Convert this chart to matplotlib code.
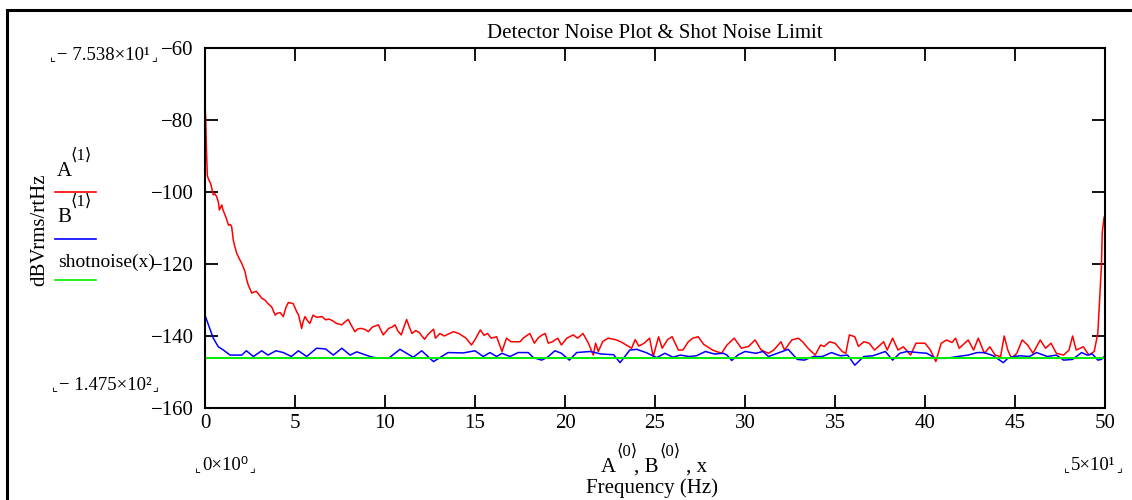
import matplotlib
matplotlib.use("Agg")
import matplotlib.pyplot as plt
from matplotlib.lines import Line2D

# detector noise, channel A (freq Hz, dBVrms/rtHz)
a_freq = [0.0, 0.04, 0.08, 0.13, 0.2, 0.31, 0.4, 0.46, 0.55, 0.65, 0.75, 0.8, 0.93, 1.0,
          1.11, 1.2, 1.3, 1.4, 1.48, 1.57, 1.65, 1.76, 1.9, 2.04, 2.22, 2.3, 2.4, 2.6,
          2.7, 2.85, 3.0, 3.15, 3.33, 3.5, 3.7, 3.9, 4.0, 4.17, 4.35, 4.5, 4.63, 4.9,
          5.09, 5.2, 5.37, 5.45, 5.56, 5.7, 5.83, 6.0, 6.2, 6.5, 6.7, 6.9, 7.1, 7.3,
          7.6, 7.8, 7.96, 8.1, 8.33, 8.5, 8.7, 8.9, 9.07, 9.3, 9.63, 9.9, 10.2, 10.4,
          10.56, 10.7, 10.9, 11.2, 11.35, 11.5, 11.7, 11.9, 12.05, 12.2, 12.4, 12.7,
          12.8, 13.05, 13.3, 13.5, 13.8, 14.1, 14.5, 14.8, 15.0, 15.3, 15.5, 15.7, 15.9,
          16.2, 16.5, 16.75, 17.0, 17.5, 17.7, 18.05, 18.3, 18.5, 18.7, 18.9, 19.07,
          19.3, 19.6, 19.8, 20.1, 20.46, 20.7, 21.0, 21.3, 21.57, 21.7, 21.85, 22.1,
          22.4, 22.8, 23.1, 23.4, 23.7, 23.9, 24.1, 24.4, 24.7, 24.9, 25.2, 25.4, 25.7,
          25.95, 26.3, 26.55, 26.85, 27.1, 27.4, 27.7, 28.2, 28.7, 29.0, 29.4, 29.8,
          30.2, 30.56, 30.9, 31.3, 31.6, 32.0, 32.2, 32.6, 32.96, 33.2, 33.5, 33.9,
          34.2, 34.4, 34.7, 35.0, 35.4, 35.6, 35.8, 36.1, 36.3, 36.6, 36.9, 37.2, 37.5,
          37.7, 37.9, 38.2, 38.5, 38.8, 39.2, 39.5, 40.0, 40.3, 40.6, 40.9, 41.2, 41.5,
          41.7, 41.9, 42.4, 42.7, 42.96, 43.3, 43.6, 43.9, 44.2, 44.4, 44.6, 44.8, 45.1,
          45.4, 45.7, 46.0, 46.4, 46.7, 47.0, 47.3, 47.7, 48.0, 48.2, 48.4, 48.8, 49.1,
          49.4, 49.6, 49.7, 49.8, 49.85, 49.95]
a_db = [-75.4, -80, -88, -95.5, -96.5, -97.6, -99.5, -100.8, -100.5, -101.3, -103, -105,
        -103.6, -105, -106.4, -107.5, -109.2, -109, -109.6, -113.3, -115, -117, -118.5,
        -119.8, -122.1, -124, -125.8, -128.1, -127.8, -127.6, -128.5, -129.5, -130, -131,
        -131.9, -134.2, -133.7, -133.5, -134.6, -132, -130.7, -131, -133.2, -134.2,
        -137.9, -136, -134.6, -135.8, -136.5, -134.2, -134.8, -134.6, -135.5, -135.3,
        -135.8, -136.5, -136.9, -136, -135.4, -136.8, -138.8, -138, -137.9, -138.2,
        -138.8, -137.5, -136.9, -139.7, -137.9, -137.5, -136.9, -138.5, -139.7, -135.4,
        -137.5, -139.3, -138.5, -139, -140, -140.9, -139.5, -138.1, -140.6, -139.3,
        -140, -139.5, -138.8, -139.3, -140.6, -142.5, -141, -138.3, -139.8, -139.3,
        -140.6, -140.2, -144.3, -140.6, -141.6, -141.6, -140.5, -139.3, -142, -140.6,
        -139.8, -139.3, -142, -141.6, -140.6, -142.5, -140.6, -139.7, -140.6, -139.3,
        -142, -145.3, -142, -144.3, -141.5, -140.6, -141, -141.6, -142.5, -143.4, -141,
        -142.8, -142, -140.6, -145.7, -140.2, -143.4, -141, -140.2, -143.9, -143.9,
        -141.6, -140.6, -140.2, -142.3, -143.9, -144.8, -142.5, -140.6, -143.4, -142.9,
        -141.1, -143.9, -144.8, -143.9, -141.6, -143.9, -141.1, -140.6, -141.6, -143.4,
        -145.3, -142.5, -142.9, -141.6, -142, -144.3, -144.8, -139.7, -140.2, -142.9,
        -141.6, -142, -143.9, -142.5, -141.6, -143.9, -140.6, -143.9, -143, -145.3,
        -142, -142, -143.9, -147.1, -142, -141.1, -141.8, -140.6, -143.4, -141.1,
        -143.9, -140.6, -144.8, -143, -145.3, -145.7, -140, -143.9, -146.2, -144.8,
        -141.1, -142.5, -144.8, -141.1, -143.4, -142, -144.8, -145.3, -143.9, -140,
        -143.9, -143, -145.3, -144.3, -139.3, -130, -120.7, -111, -107]

# channel B
b_freq = [0.0, 0.19, 0.46, 0.74, 1.02, 1.39, 2.04, 2.3, 2.69, 3.15, 3.5, 3.94, 4.35, 4.8,
          5.19, 5.65, 6.2, 6.7, 7.13, 7.6, 8.06, 8.43, 9.17, 9.54, 10.2, 10.83, 11.57,
          12.04, 12.6, 12.7, 13.5, 14.35, 15.0, 15.46, 15.83, 16.2, 16.5, 16.94, 17.4,
          17.96, 18.24, 18.7, 19.0, 19.44, 19.8, 20.24, 20.65, 21.4, 22.0, 22.7, 23.06,
          23.6, 23.98, 24.5, 25.1, 25.55, 26.0, 26.4, 26.9, 27.3, 27.8, 28.3, 28.8, 29.0,
          29.26, 29.6, 30.0, 30.6, 31.0, 31.3, 31.8, 32.4, 32.9, 33.3, 33.8, 34.3, 34.8,
          35.3, 35.7, 36.1, 36.6, 37.1, 37.8, 38.2, 38.6, 39.0, 39.6, 40.1, 40.6, 41.2,
          41.8, 42.4, 42.9, 43.3, 43.8, 44.0, 44.35, 44.6, 44.9, 45.3, 45.8, 46.2, 46.8,
          47.3, 47.7, 48.2, 48.7, 49.0, 49.3, 49.6, 49.8, 50.0]
b_db = [-134.2, -136.9, -140.6, -143, -143.9, -145.3, -145.3, -144.1, -145.7, -144.1,
        -145.3, -144.1, -144.6, -145.7, -144.1, -145.7, -143.4, -143.6, -145.3, -143.4,
        -145.3, -144.4, -145.7, -146.1, -146.2, -143.7, -145.9, -144.1, -146.7, -147.1,
        -144.6, -144.7, -144.1, -145.7, -144.6, -145.7, -144.8, -145.7, -144.6, -144.6,
        -146, -146.7, -146, -144.1, -144.8, -146.7, -144.6, -144.3, -145, -145.2,
        -147.4, -143.9, -143.7, -144.6, -146, -144.8, -145.9, -145.3, -145.7, -145.5,
        -144.3, -145, -144.8, -145.3, -146.8, -145.3, -144.3, -144.8, -144.3, -145.7,
        -144.8, -143.7, -146.5, -146.7, -145.7, -145.7, -144.6, -145.5, -145.3, -148.1,
        -145.7, -145.5, -144.3, -146.7, -144.8, -144.3, -144.6, -144.8, -146.2, -146.2,
        -145.7, -145.3, -144.6, -144.6, -145.5, -146.2, -147.4, -146.2, -145.7, -145.5,
        -145.7, -144.6, -145.7, -145.3, -146.7, -146.5, -144.6, -145.3, -145, -146.7,
        -146.5, -145.5]

# shot noise limit
shot_freq = [0, 50]
shot_db = [-146.1, -146.1]

x_ticks = [0, 5, 10, 15, 20, 25, 30, 35, 40, 45, 50]
y_ticks = [-60, -80, -100, -120, -140, -160]

# axis limit readouts: (left x px, centre y px, text)
readouts = [(50, 55, '\u2212 7.538\u00d710\u00b9'),
            (52, 385, '\u2212 1.475\u00d710\u00b2'),
            (195, 466, '0\u00d710\u2070'),
            (1064, 466, '5\u00d710\u00b9')]

W, H = 1132, 500
plt.rcParams['font.family'] = ['Liberation Serif', 'DejaVu Sans']
plt.rcParams['axes.unicode_minus'] = True

fig = plt.figure(figsize=(W / 100, H / 100), dpi=100)
ax = fig.add_axes([205 / W, 1 - 408 / H, 900 / W, 360 / H])

ax.plot(a_freq, a_db, color='#ff0000', lw=1.1)
ax.plot(b_freq, b_db, color='#0000ff', lw=1.1)
ax.plot(shot_freq, shot_db, color='#00ee00', lw=1.4)

ax.set_xlim(0, 50)
ax.set_ylim(-160, -60)
ax.set_xticks(x_ticks)
ax.set_yticks(y_ticks)
ax.tick_params(direction='in', length=9.5, width=1.3, labelsize=15,
               top=True, right=True, pad=4)
ax.tick_params(axis='y', pad=8)
for s in ax.spines.values():
    s.set_linewidth(1.5)


def px(x, y, s, **kw):
    kw.setdefault('fontsize', 15)
    kw.setdefault('va', 'center')
    return fig.text(x / W, 1 - y / H, s, **kw)


def hline(x0, x1, y, color, lw):
    fig.add_artist(Line2D([x0 / W, x1 / W], [1 - y / H] * 2, color=color, lw=lw,
                          transform=fig.transFigure))


# outer frame (Mathcad region border)
fig.add_artist(Line2D([7 / W, 7 / W], [0, 1 - 10 / H], color='black', lw=2.2,
                      transform=fig.transFigure))
hline(7, W, 10, 'black', 2.2)

px(655, 33, 'Detector Noise Plot & Shot Noise Limit', ha='center')
px(40, 230, 'dBVrms/rtHz', rotation=90, ha='center')

# trace labels
px(57, 172, 'A', ha='left')
px(71, 156, '\u27e81\u27e9', ha='left', fontsize=12)
px(57, 218, 'B', ha='left')
px(71, 202, '\u27e81\u27e9', ha='left', fontsize=12)
px(58, 262, 'shotnoise(x)', ha='left', fontsize=14)
hline(55, 96, 192, '#ff0000', 1.2)
hline(55, 96, 239, '#0000ff', 1.2)
hline(55, 96, 280, '#00ee00', 1.2)

# readouts with small corner marks at both ends
renderer = fig.canvas.get_renderer()
for x, y, s in readouts:
    px(x, y + 3, '\u231e', ha='left', fontsize=9)
    t = px(x + 7, y, s, ha='left', fontsize=13.5)
    x_end = t.get_window_extent(renderer).x1
    px(x_end + 1, y + 3, '\u231f', ha='left', fontsize=9)

# x axis expression and label
px(608, 467, 'A', ha='center')
px(627, 452, '\u27e80\u27e9', ha='center', fontsize=12)
px(646, 467, ', B', ha='center')
px(670, 452, '\u27e80\u27e9', ha='center', fontsize=12)
px(697, 467, ', x', ha='center')
px(652, 488, 'Frequency (Hz)', ha='center')

fig.savefig('out.png', dpi=100)
